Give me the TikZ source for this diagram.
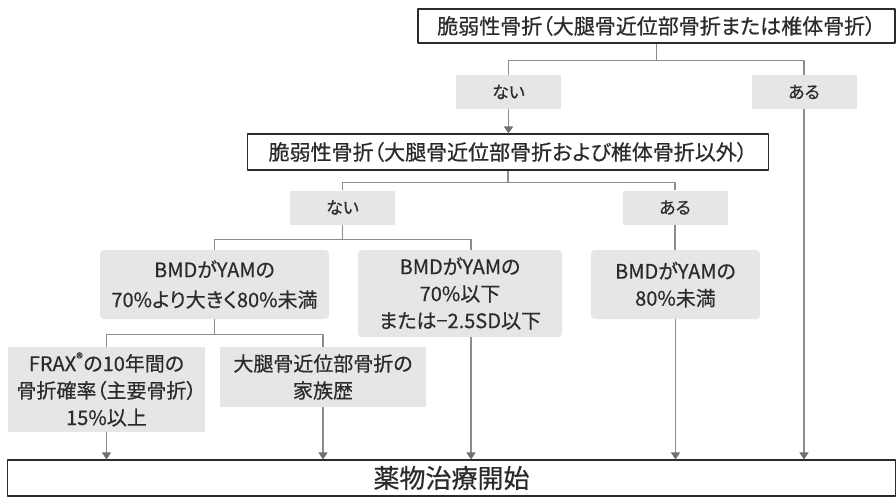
\documentclass[tikz,border=0pt]{standalone}
\usepackage{fontspec}
\newfontfamily\jpfont[RawFeature=+palt, FakeBold=0.5]{Noto Sans CJK JP}
\usetikzlibrary{arrows.meta}
\definecolor{boxgray}{HTML}{E6E6E6}
\definecolor{linegray}{HTML}{8C8C8C}
\definecolor{tipgray}{HTML}{707070}
\definecolor{textdark}{HTML}{2E2A2A}
\tikzset{
  mainbox/.style={draw=textdark, line width=1.1pt, fill=white, inner sep=0pt, text=textdark, font=\jpfont\fontsize{21}{28}\selectfont},
  choice/.style={fill=boxgray, inner sep=0pt, minimum width=105pt, minimum height=34pt, text=textdark, font=\jpfont\fontsize{17}{22}\selectfont},
  cond/.style={fill=boxgray, inner sep=0pt, align=center, text=textdark, font=\jpfont\fontsize{20}{27}\selectfont},
  rounded/.style={rounded corners=4pt},
  link/.style={draw=linegray, line width=1.2pt},
  flow/.style={link, -{Triangle[width=9pt,length=7pt,color=tipgray]}},
}
\begin{document}
\begin{tikzpicture}[x=1pt, y=-1pt, line join=round]
    \def\sh{11pt}
    \useasboundingbox (0,0) rectangle (896,498);
    \node[mainbox, minimum width=477pt, minimum height=34pt] (fragA) at (656.5,26) {脆弱性骨折（大腿骨近位部骨折または椎体骨折）};
    \node[choice] (noA) at (508.5,92) {ない};
    \node[choice] (yesA) at (804,92) {ある};
    \node[mainbox, minimum width=521pt, minimum height=36pt] (fragB) at (508,152) {脆弱性骨折（大腿骨近位部骨折および椎体骨折以外）};
    \node[choice] (noB) at (342.5,207.5) {ない};
    \node[choice] (yesB) at (675,207.5) {ある};
    \node[cond, rounded, minimum width=229pt, minimum height=69pt, font=\jpfont\fontsize{20}{30}\selectfont] (bmdA) at (214.5,284.5) {BMDがYAMの\\70\%より大きく80\%未満};
    \node[cond, rounded, minimum width=204pt, minimum height=87pt] (bmdB) at (460,293.5) {BMDがYAMの\\70\%以下\\または−2.5SD以下};
    \node[cond, rounded, minimum width=169pt, minimum height=69pt] (bmdC) at (675.5,284.5) {BMDがYAMの\\80\%未満};
    \node[cond, minimum width=197pt, minimum height=85pt] (frax) at (106.5,389.5) {FRAX\textsuperscript{®}の10年間の\\骨折確率（主要骨折）\\15\%以上};
    \node[cond, minimum width=206pt, minimum height=60pt] (famh) at (323,377) {大腿骨近位部骨折の\\家族歴};
    \node[mainbox, minimum width=888pt, minimum height=36pt, font=\jpfont\fontsize{26}{30}\selectfont] (start) at (451.5,478) {薬物治療開始};
    \draw[link] (fragA.south) -- ++(0,17) coordinate (jA);
    \draw[link] (noA.north) |- (jA) -| (yesA.north);
    \draw[flow] (noA.south) -- (noA.south |- fragB.north);
    \draw[link] (fragB.south) -- ++(0,12) coordinate (jB);
    \draw[link] (noB.north) |- (jB) -| (yesB.north);
    \draw[link] (noB.south) -- ++(0,15) coordinate (jC);
    \draw[link] (bmdA.north) |- (jC) -| ([xshift=\sh]bmdB.north);
    \draw[link] (yesB.south) -- (yesB.south |- bmdC.north);
    \draw[link] (bmdA.south) -- ++(0,15) coordinate (jD);
    \draw[link] (frax.north) |- (jD) -| (famh.north);
    \foreach \n in {frax,famh,bmdC,yesA}
    \draw[flow] (\n.south) -- (\n.south |- start.north);
    \draw[flow] ([xshift=\sh]bmdB.south) -- ([xshift=\sh]bmdB.south |- start.north);
\end{tikzpicture}
\end{document}
